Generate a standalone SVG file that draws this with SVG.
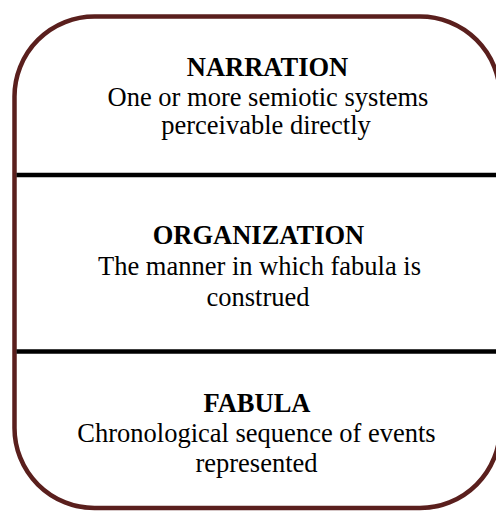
<svg xmlns="http://www.w3.org/2000/svg" width="496" height="512" viewBox="0 0 496 512">
  <style>
    .frame { fill: #ffffff; stroke: #5a1f1d; stroke-width: 4.5; }
    .divider { stroke: #000000; stroke-width: 4.5; fill: none; }
    text { font-family: "Liberation Serif", "Times New Roman", serif; font-size: 26.5px; fill: #000000; text-anchor: middle; }
    .title { font-weight: bold; }
  </style>
  <rect width="496" height="512" fill="#ffffff"/>
  <g id="frame">
    <path class="frame" d="M 94.5 16.5 L 420 16.5 A 80 80 0 0 1 500 96.5 L 500 428 A 80 80 0 0 1 420 508 L 94.5 508 A 80 80 0 0 1 14.5 428 L 14.5 96.5 A 80 80 0 0 1 94.5 16.5 Z"/>
  </g>
  <g id="connectors">
    <line class="divider" x1="16.5" y1="175" x2="498" y2="175"/>
    <line class="divider" x1="16.5" y1="351.5" x2="498" y2="351.5"/>
  </g>
  <g id="narration">
    <text class="title" x="267.5" y="76">NARRATION</text>
    <text x="268" y="105.5">One or more semiotic systems</text>
    <text x="266" y="134">perceivable directly</text>
  </g>
  <g id="organization">
    <text class="title" x="258.5" y="244">ORGANIZATION</text>
    <text x="259.5" y="275">The manner in which fabula is</text>
    <text x="258" y="306">construed</text>
  </g>
  <g id="fabula">
    <text class="title" x="257" y="411.5">FABULA</text>
    <text x="256.5" y="442">Chronological sequence of events</text>
    <text x="256.5" y="472">represented</text>
  </g>
</svg>
